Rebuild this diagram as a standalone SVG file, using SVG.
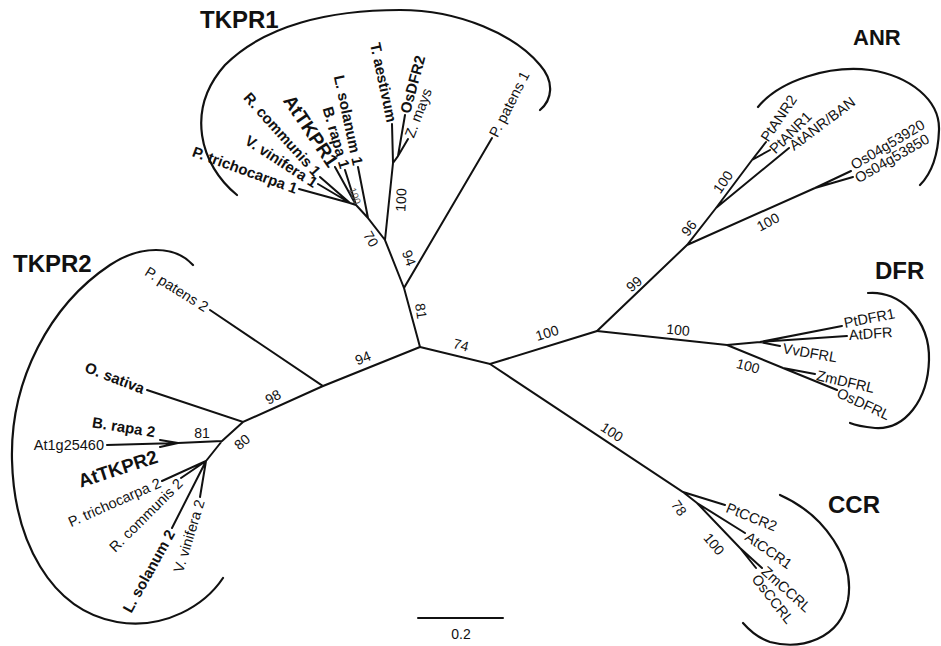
<svg xmlns="http://www.w3.org/2000/svg" width="941" height="646" viewBox="0 0 941 646">
<style>
.e{stroke:#111;stroke-width:2;fill:none;stroke-linecap:round}
.br{stroke:#111;stroke-width:2.2;fill:none;stroke-linecap:round}
text{font-family:"Liberation Sans",Arial,sans-serif;fill:#111}
.l{font-size:14.5px}
.lb{font-size:15px;font-weight:bold}
.lB{font-size:19px;font-weight:bold}
.bs{font-size:14px;text-anchor:middle}
.sm{font-size:10px;text-anchor:middle;fill:#555}
.ti{font-size:24px;font-weight:bold}
.s{text-anchor:start}
.en{text-anchor:end}
</style>
<rect width="941" height="646" fill="#fff"/>
<g id="connectors">
<path class="e" d="M420,347L404,288L492,138M404,288L385,240L393,163L392,124M393,163L398,156L405,115M398,156L408,139M385,240L368,218L358,167M368,218L356,205L345,170M356,205L335,167M356,205L350,203L320,177M350,203L318,184M350,203L299,189"/>
<path class="e" d="M420,347L490,364L597,331L687,245L716,208L752,160L766,142M752,160L770,150M716,208L789,148M687,245L815,188L851,171M815,188L853,177"/>
<path class="e" d="M597,331L727,345L760,342L842,326M760,342L847,336M760,342L780,346M727,345L783,368L815,374M783,368L837,390"/>
<path class="e" d="M490,364L683,492L725,505M683,492L697,503L745,533M697,503L740,548L762,568M740,548L756,568"/>
<path class="e" d="M420,347L323,386L210,310M323,386L243,422L147,390M243,422L222,441L178,443L107,445M178,443L160,440M178,443L160,447M222,441L206,461L162,481M206,461L181,478M206,461L172,528M206,461L200,497"/>
<path class="br" d="M237,195C200,165 185,110 225,65C265,25 330,10 400,10C460,10 515,35 540,65C555,82 552,100 540,110"/>
<path class="br" d="M758,107C780,80 830,65 870,70C910,76 940,100 939,130C938,160 930,175 920,185"/>
<path class="br" d="M868,293C900,290 930,320 929,360C928,400 905,430 875,428C865,427 857,426 850,423"/>
<path class="br" d="M780,495C825,515 855,560 848,600C840,640 800,650 770,642C758,638 750,631 743,623"/>
<path class="br" d="M193,265C175,245 140,245 110,265C50,305 10,380 12,460C14,540 50,610 117,622C165,630 205,605 223,578"/>
<path class="e" d="M418,618H503"/>
</g>
<g id="titles">
<text class="ti" x="200" y="28">TKPR1</text>
<text class="ti" x="853" y="45" style="font-size:22px">ANR</text>
<text class="ti" x="13" y="272">TKPR2</text>
<text class="ti" x="875" y="279">DFR</text>
<text class="ti" x="828" y="513">CCR</text>
</g>
<g id="bootstrap">
<text class="bs" dy=".35em" transform="translate(421,311) rotate(82)">81</text>
<text class="bs" dy=".35em" transform="translate(409,258) rotate(70)">94</text>
<text class="bs" dy=".35em" transform="translate(401,200) rotate(-87)">100</text>
<text class="bs" dy=".35em" transform="translate(371,239) rotate(60)">70</text>
<text class="sm" dy=".35em" transform="translate(355,196) rotate(70)">100</text>
<text class="bs" dy=".35em" transform="translate(461,345) rotate(15)">74</text>
<text class="bs" dy=".35em" transform="translate(547,333) rotate(-17)">100</text>
<text class="bs" dy=".35em" transform="translate(363,358) rotate(-22)">94</text>
<text class="bs" dy=".35em" transform="translate(273,397) rotate(-28)">98</text>
<text class="bs" dy=".35em" transform="translate(242,442) rotate(-40)">80</text>
<text class="bs" dy=".35em" transform="translate(202,433)">81</text>
<text class="bs" dy=".35em" transform="translate(634,284) rotate(-40)">99</text>
<text class="bs" dy=".35em" transform="translate(689,228) rotate(-52)">96</text>
<text class="bs" dy=".35em" transform="translate(723,182) rotate(-55)">100</text>
<text class="bs" dy=".35em" transform="translate(768,222) rotate(-28)">100</text>
<text class="bs" dy=".35em" transform="translate(678,330) rotate(5)">100</text>
<text class="bs" dy=".35em" transform="translate(748,366) rotate(15)">100</text>
<text class="bs" dy=".35em" transform="translate(612,432) rotate(33)">100</text>
<text class="bs" dy=".35em" transform="translate(679,508) rotate(55)">78</text>
<text class="bs" dy=".35em" transform="translate(714,544) rotate(50)">100</text>
<text class="bs" dy=".35em" x="461" y="634">0.2</text>
</g>
<g id="n-Ptri1"><text class="lb en" dy=".35em" transform="translate(297,189) rotate(20)">P. trichocarpa 1</text></g>
<g id="n-Vvin1"><text class="lb en" dy=".35em" transform="translate(316,184) rotate(33)">V. vinifera 1</text></g>
<g id="n-Rcom1"><text class="lb en" dy=".35em" transform="translate(318,174) rotate(48)">R. communis 1</text></g>
<g id="n-AtTKPR1"><text class="lB en" dy=".35em" transform="translate(334,165) rotate(56)">AtTKPR1</text></g>
<g id="n-Brapa1"><text class="lb en" dy=".35em" transform="translate(345,168) rotate(74)">B. rapa 1</text></g>
<g id="n-Lsol1"><text class="lb en" dy=".35em" transform="translate(358,165) rotate(78)">L. solanum 1</text></g>
<g id="n-Taes"><text class="lb en" dy=".35em" transform="translate(392,122) rotate(78)">T. aestivum</text></g>
<g id="n-OsDFR2"><text class="lb s" dy=".35em" transform="translate(405,113) rotate(-75)">OsDFR2</text></g>
<g id="n-Zmays"><text class="l s" dy=".35em" transform="translate(409,137) rotate(-69)">Z. mays</text></g>
<g id="n-Ppat1"><text class="l s" dy=".35em" transform="translate(493,136) rotate(-63)">P. patens 1</text></g>
<g id="n-PtANR2"><text class="l s" dy=".35em" transform="translate(764,140) rotate(-56)">PtANR2</text></g>
<g id="n-PtANR1"><text class="l s" dy=".35em" transform="translate(772,151) rotate(-45)">PtANR1</text></g>
<g id="n-AtANR"><text class="l s" dy=".35em" transform="translate(791,147) rotate(-37)">AtANR/BAN</text></g>
<g id="n-Os920"><text class="l s" dy=".35em" transform="translate(852,166) rotate(-31)">Os04g53920</text></g>
<g id="n-Os850"><text class="l s" dy=".35em" transform="translate(856,179) rotate(-30)">Os04g53850</text></g>
<g id="n-PtDFR1"><text class="l s" dy=".35em" transform="translate(844,323) rotate(-11)">PtDFR1</text></g>
<g id="n-AtDFR"><text class="l s" dy=".35em" transform="translate(849,335) rotate(-4)">AtDFR</text></g>
<g id="n-VvDFRL"><text class="l s" dy=".35em" transform="translate(783,348) rotate(10)">VvDFRL</text></g>
<g id="n-ZmDFRL"><text class="l s" dy=".35em" transform="translate(817,375) rotate(13)">ZmDFRL</text></g>
<g id="n-OsDFRL"><text class="l s" dy=".35em" transform="translate(838,392) rotate(25)">OsDFRL</text></g>
<g id="n-PtCCR2"><text class="l s" dy=".35em" transform="translate(727,507) rotate(22)">PtCCR2</text></g>
<g id="n-AtCCR1"><text class="l s" dy=".35em" transform="translate(747,535) rotate(35)">AtCCR1</text></g>
<g id="n-ZmCCRL"><text class="l s" dy=".35em" transform="translate(764,569) rotate(42)">ZmCCRL</text></g>
<g id="n-OsCCRL"><text class="l s" dy=".35em" transform="translate(755,576) rotate(52)">OsCCRL</text></g>
<g id="n-Ppat2"><text class="l en" dy=".35em" transform="translate(207,308) rotate(32)">P. patens 2</text></g>
<g id="n-Osat"><text class="lb en" dy=".35em" transform="translate(144,389) rotate(21)">O. sativa</text></g>
<g id="n-Brapa2"><text class="lb en" dy=".35em" transform="translate(155,432) rotate(9)">B. rapa 2</text></g>
<g id="n-At1g"><text class="l en" dy=".35em" transform="translate(104,445)">At1g25460</text></g>
<g id="n-AtTKPR2"><text class="lB en" dy=".35em" transform="translate(157,456) rotate(-18)">AtTKPR2</text></g>
<g id="n-Ptri2"><text class="l en" dy=".35em" transform="translate(160,482) rotate(-24)">P. trichocarpa 2</text></g>
<g id="n-Rcom2"><text class="l en" dy=".35em" transform="translate(180,481) rotate(-45)">R. communis 2</text></g>
<g id="n-Lsol2"><text class="lb en" dy=".35em" transform="translate(171,531) rotate(-61)">L. solanum 2</text></g>
<g id="n-Vvin2"><text class="l en" dy=".35em" transform="translate(200,500) rotate(-73)">V. vinifera 2</text></g>
</svg>
